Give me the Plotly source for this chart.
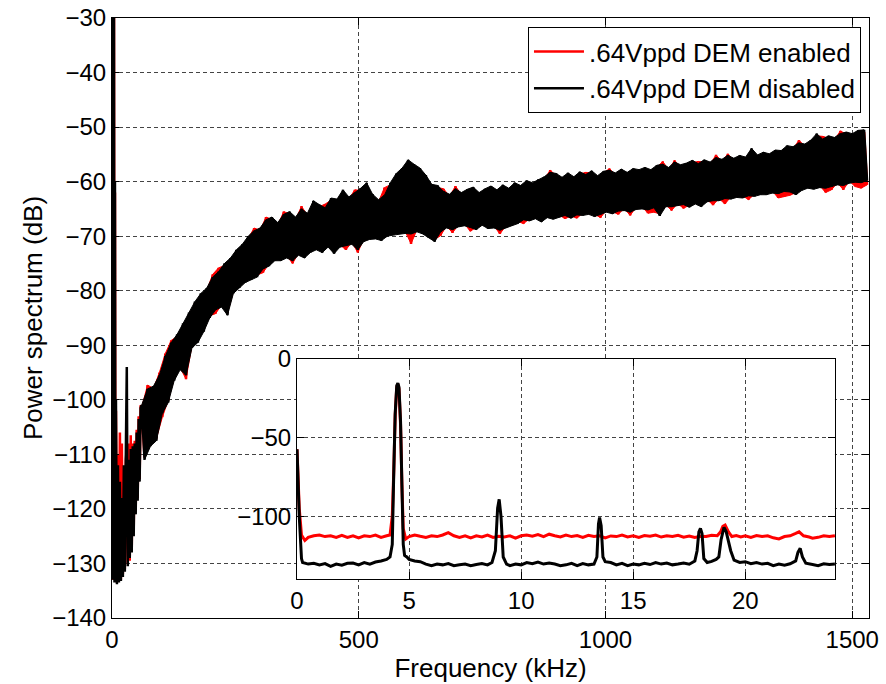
import plotly.graph_objects as go

# ---------------- main spectrum (kHz, dB) ----------------
LOW_F = [0, 1, 2, 3, 4, 5, 6, 7, 8, 10, 12, 14, 16, 18, 20, 22, 24, 26, 28, 30,
         32, 34, 36, 38, 40, 42, 44, 46, 48, 50, 52, 54, 56, 58]
BIN_F = list(range(60, 1536, 6))   # FFT bin grid above 60 kHz
main_f = LOW_F + BIN_F

black_low = [-20, -133, -22, -132, -25, -133.5, -60, -133, -100, -133.8,
             -112, -133.5, -115, -133.2, -118, -132.5, -112, -131.5, -110, -94,
             -130.5, -111, -129, -109, -128, -108.5, -125, -108, -121, -106,
             -118.5, -103.5, -115, -101.5]
red_low = [-20, -133, -22, -132, -25, -133, -62, -133, -102, -133.5,
           -110, -133, -106, -133, -108, -132, -113, -131, -111, -109,
           -130, -108, -129.5, -106.5, -127.5, -108, -124, -107.5, -120.5, -105.5,
           -118, -103, -114.5, -101]

# above 60 kHz the values alternate: local maximum, local minimum, ...
black_bins = [
    -101, -111, -98, -108.5, -97.5, -107.5, -95.5, -102.5, -92, -100.5,
    -89.5, -96.5, -88, -94.5, -86, -95.5, -84, -90.5, -82, -89.5,
    -80.5, -87.5, -79.5, -85, -77.5, -83.5, -76.5, -83, -75, -84.5,
    -74, -80.5, -72.5, -79.5, -71.5, -78.5, -70, -78, -69, -77.5,
    -68.5, -76, -67, -75.5, -66.5, -74.5, -67.5, -74.5, -66, -74,
    -65.5, -74.5, -66.5, -73.5, -65, -74, -65.8, -73, -63.5, -72.5,
    -64.2, -73, -64.8, -72, -63, -73.2, -63.2, -72, -61.5, -71.8,
    -62.8, -71.5, -62, -72.5, -61.2, -71, -60.2, -70.6, -62.3, -70.5,
    -63.3, -70.8, -62.5, -70, -60.2, -69.8, -58.5, -69.6, -57.5, -69.5,
    -56, -69.6, -56.8, -69.2, -57.5, -69.6, -58.8, -70.3, -60.5, -71,
    -60.7, -69.2, -61.8, -68.5, -62.3, -68.8, -61.3, -68.3, -62, -68.1,
    -61.4, -68.4, -61, -68.8, -62, -68, -61.3, -68.6, -60.8, -68.5,
    -61.5, -68.9, -60.6, -68.5, -61.2, -68.1, -60.2, -67.7, -60.7, -67,
    -59.8, -67.2, -60.2, -66.8, -59.6, -67.4, -59.1, -66.6, -58.3, -66.9,
    -58.5, -66.5, -59.2, -66.2, -58.4, -66.7, -59.1, -66.1, -58.2, -66.2,
    -58.7, -66, -58, -66.4, -58.9, -66, -58.1, -65.6, -57.9, -65.9,
    -58.4, -65.4, -57.7, -65.3, -58.3, -65.6, -57.6, -65.1, -57.8, -65,
    -57.4, -65.2, -57.8, -64.8, -57, -66.3, -56.8, -64.6, -57.4, -64.6,
    -56.4, -64.4, -56.9, -64.2, -56.6, -64.7, -56.1, -64.1, -56.7, -64.6,
    -56, -63.7, -56.4, -63.5, -55.6, -63.5, -55.9, -63.1, -55.2, -63.2,
    -55.7, -62.9, -55.2, -63, -55.5, -62.6, -53.9, -62.7, -55.1, -62.4,
    -54.6, -62.4, -54.9, -62.1, -54.2, -62.2, -54.3, -61.8, -53.4, -61.9,
    -53.6, -62.4, -52.9, -61.6, -53.1, -61.2, -52.4, -61.4, -51.2, -61.1,
    -52.2, -61.2, -51.6, -60.9, -51.9, -60.6, -51.2, -60.7, -50.9, -60.3,
    -51.2, -60.1, -50.6, -60.2, -50.5, -59.8,
]
red_bins = [
    -101.4, -110.6, -97.3, -108.1, -97.9, -107.1, -95, -103.2, -91.5, -100.1,
    -89.1, -96.1, -88.4, -94.1, -86.4, -96.2, -84.4, -90.1, -82.4, -89.1,
    -80.9, -87.1, -79.9, -84.6, -77, -84.2, -75.8, -82.6, -75.4, -84.1,
    -74.4, -80.1, -72.9, -79.1, -71.9, -78.1, -70.4, -77.6, -68.5, -77.1,
    -68.9, -76.7, -66.5, -75.1, -66.9, -74.1, -67.9, -74.1, -65.5, -73.6,
    -65.9, -75, -66.9, -73.1, -64.5, -73.6, -66.2, -72.6, -63.9, -72.1,
    -64.6, -72.6, -64.1, -71.6, -63.4, -72.8, -63.6, -71.6, -61.9, -72.5,
    -63.2, -71.1, -61.5, -73, -61.6, -70.6, -60.6, -70.2, -62.7, -70.1,
    -63.7, -70.4, -61.1, -69.6, -60.6, -69.4, -61, -69.2, -61.2, -69.1,
    -61, -71.4, -61.4, -68.8, -61.3, -69.2, -61.5, -69.9, -61.8, -70.6,
    -61.1, -69.9, -61.3, -68.1, -62.7, -69.4, -60.8, -67.9, -62.4, -67.7,
    -61.8, -69.1, -61.4, -68.4, -62.4, -67.6, -61.7, -68.2, -61.2, -68.1,
    -61.9, -69.6, -61, -68.1, -61.6, -67.7, -60.6, -67.3, -61.1, -67.7,
    -60.2, -66.8, -60.6, -66.4, -60, -67, -59.5, -66.2, -57.9, -66.5,
    -58.9, -66.1, -59.6, -66.8, -58.8, -66.3, -59.5, -66.7, -58.6, -65.8,
    -58.3, -65.6, -58.4, -66, -59.3, -66.6, -58.5, -65.2, -57.6, -65.5,
    -58.8, -66, -58.1, -64.9, -58.7, -66.2, -58, -64.7, -58.2, -64.6,
    -57.8, -65.8, -58.2, -65.6, -57.4, -65.9, -56.3, -64.2, -57.8, -65.3,
    -56.1, -64, -57.3, -64.9, -57, -64.3, -56.5, -63.7, -56.3, -64.2,
    -56.4, -63.3, -56.8, -64.3, -55.1, -63.1, -56.3, -64.1, -54.9, -62.8,
    -56.1, -62.5, -55.6, -62.6, -55.9, -63.3, -54.3, -62.3, -55.5, -62,
    -55, -62, -55.3, -61.7, -54.6, -63, -54.7, -62.8, -53.8, -62.5,
    -54, -62, -52.4, -61.2, -53.5, -60.8, -52.8, -61, -51.6, -60.7,
    -51.7, -62, -52, -61.5, -52.3, -60.2, -50.7, -61.5, -51.3, -59.9,
    -51.6, -60.9, -51, -61.2, -50.9, -60.6,
]
black_main = black_low + black_bins
red_main = red_low + red_bins
assert len(black_main) == len(main_f) == len(red_main)

# ---------------- inset (0-24 kHz) ----------------
inset_black_f = [
    0.0, 0.1, 0.2, 0.25, 0.5, 0.75, 1.0, 1.25, 1.5, 1.75,
    2.0, 2.25, 2.5, 2.75, 3.0, 3.25, 3.5, 3.75, 4.0, 4.15,
    4.25, 4.32, 4.38, 4.45, 4.5, 4.55, 4.62, 4.68, 4.74, 4.8,
    4.9, 5.0, 5.25, 5.5, 5.75, 6.0, 6.25, 6.5, 6.75, 7.0,
    7.25, 7.5, 7.75, 8.0, 8.25, 8.5, 8.7, 8.85, 8.95, 9.02,
    9.1, 9.2, 9.35, 9.5, 9.75, 10.0, 10.25, 10.5, 10.75, 11.0,
    11.25, 11.5, 11.75, 12.0, 12.25, 12.5, 12.75, 13.0, 13.25, 13.38,
    13.45, 13.5, 13.57, 13.65, 13.75, 14.0, 14.25, 14.5, 14.75, 15.0,
    15.25, 15.5, 15.75, 16.0, 16.25, 16.5, 16.75, 17.0, 17.25, 17.5,
    17.75, 17.85, 17.93, 18.0, 18.07, 18.15, 18.3, 18.5, 18.7, 18.82,
    18.92, 19.05, 19.15, 19.25, 19.35, 19.5, 19.75, 20.0, 20.25, 20.5,
    20.75, 21.0, 21.25, 21.5, 21.75, 22.0, 22.25, 22.35, 22.45, 22.55,
    22.7, 23.0, 23.25, 23.5, 23.75, 24.0,
]
inset_black_db = [
    -57.5, -100, -127, -129.5, -130.5, -130, -131, -130.2, -132, -130.5,
    -131.2, -130, -129.8, -131, -129.5, -130.5, -129.2, -128.5, -127.5, -126,
    -118, -70, -35, -17, -15.4, -18, -40, -80, -118, -125,
    -126, -127.5, -128.5, -129, -130.5, -131.5, -130.5, -131, -130.2, -131.5,
    -131, -130.5, -131.5, -130.8, -130.2, -131, -129.5, -122, -95, -89.3,
    -100, -126, -130.5, -131.5, -130.5, -131, -129.5, -130.3, -129.2, -130.5,
    -129.8, -130.5, -131.5, -131, -130, -131.5, -130.2, -131, -130.5, -126,
    -105, -100.9, -106, -126, -129, -129.5, -131, -130, -131.5, -130.5,
    -131, -130, -130.8, -129.5, -130.5, -129.8, -131, -130.5, -129.8, -130.6,
    -128.5, -122, -110, -107.8, -111, -127, -129.5, -128.8, -127.5, -126,
    -115, -107.2, -110, -116, -122, -128, -129.5, -129, -130.3, -129.5,
    -130.5, -130, -131.5, -130.5, -131.2, -130.3, -128.5, -123, -120.5, -126,
    -130, -130.8, -131.5, -130.3, -130.8, -130.5,
]
inset_red_f = [
    0.0, 0.1, 0.2, 0.35, 0.5, 0.75, 1.0, 1.25, 1.5, 1.75,
    2.0, 2.25, 2.5, 2.75, 3.0, 3.25, 3.5, 3.75, 4.0, 4.15,
    4.25, 4.32, 4.38, 4.45, 4.5, 4.55, 4.62, 4.68, 4.74, 4.85,
    5.0, 5.25, 5.5, 5.75, 6.0, 6.25, 6.5, 6.75, 7.0, 7.25,
    7.5, 7.75, 8.0, 8.25, 8.5, 8.75, 9.0, 9.25, 9.5, 9.75,
    10.0, 10.25, 10.5, 10.75, 11.0, 11.25, 11.5, 11.75, 12.0, 12.25,
    12.5, 12.75, 13.0, 13.25, 13.5, 13.75, 14.0, 14.25, 14.5, 14.75,
    15.0, 15.25, 15.5, 15.75, 16.0, 16.25, 16.5, 16.75, 17.0, 17.25,
    17.5, 17.75, 18.0, 18.25, 18.5, 18.75, 18.9, 19.0, 19.1, 19.25,
    19.4, 19.6, 19.8, 20.0, 20.25, 20.5, 20.75, 21.0, 21.25, 21.5,
    21.75, 22.0, 22.25, 22.4, 22.6, 22.85, 23.0, 23.25, 23.5, 23.75,
    24.0,
]
inset_red_db = [
    -57.5, -95, -112, -115.5, -113.5, -112.5, -112, -113, -112.5, -113.5,
    -112.2, -113.5, -112.5, -113.8, -112.5, -113, -112, -113.5, -112.5, -112,
    -100, -70, -36, -18, -16, -19, -42, -80, -108, -114.5,
    -113, -112, -112.8, -113.5, -112.5, -113, -112, -110.5, -112.5, -113.5,
    -112.5, -113.8, -112.5, -113.2, -112, -113.5, -112.8, -113.2, -112.5, -114,
    -112.5, -112, -112.8, -111.8, -113, -111.5, -112.5, -113.2, -112, -113,
    -112.4, -113.5, -112.2, -113, -112.5, -113.8, -112.6, -113, -112, -113.2,
    -112.5, -113.5, -112.3, -112.8, -112, -113.3, -112.5, -113, -112.2, -113.4,
    -112.6, -113.5, -112.8, -113, -112.2, -112.5, -110, -106.5, -105.7, -110,
    -113, -112.4, -113.2, -112.5, -113.5, -112.3, -113, -112.5, -113.8, -114.5,
    -113, -112.5, -111, -110, -112.5, -113.3, -114, -113.5, -112.5, -113,
    -112.5,
]
assert len(inset_black_f) == len(inset_black_db)
assert len(inset_red_f) == len(inset_red_db)

MAIN_X_TICKS = [0, 500, 1000, 1500]
MAIN_Y_TICKS = [-140, -130, -120, -110, -100, -90, -80, -70, -60, -50, -40, -30]
INSET_X_TICKS = [0, 5, 10, 15, 20]
INSET_Y_TICKS = [-100, -50, 0]

FONT = "Liberation Sans, Arial, Helvetica, sans-serif"
RED = "#ff0000"
BLACK = "#000000"


def band_outline(freqs, vals):
    """Polygon enclosing the dense spectrum: local maxima forward, local minima back."""
    hi_f, hi_v = freqs[0::2], vals[0::2]
    lo_f, lo_v = freqs[1::2], vals[1::2]
    return hi_f + lo_f[::-1], hi_v + lo_v[::-1]


fig = go.Figure()
for name, color, vals_bins, vals_all in [(".64Vppd DEM enabled", RED, red_bins, red_main),
                                         (".64Vppd DEM disabled", BLACK, black_bins, black_main)]:
    bx, by = band_outline(BIN_F, vals_bins)
    fig.add_trace(go.Scatter(x=bx, y=by, mode="lines", fill="toself", fillcolor=color,
                             line=dict(color=color, width=1), showlegend=False,
                             hoverinfo="skip"))
    fig.add_trace(go.Scatter(x=main_f, y=vals_all, mode="lines", name=name,
                             line=dict(color=color, width=2.5, simplify=False)))

fig.add_trace(go.Scatter(x=inset_red_f, y=inset_red_db, mode="lines", showlegend=False,
                         line=dict(color=RED, width=3, simplify=False), xaxis="x2", yaxis="y2"))
fig.add_trace(go.Scatter(x=inset_black_f, y=inset_black_db, mode="lines", showlegend=False,
                         line=dict(color=BLACK, width=3, simplify=False), xaxis="x2", yaxis="y2"))

axis_common = dict(showline=True, linecolor="black", linewidth=1, mirror="allticks",
                   ticks="inside", ticklen=7, tickcolor="black", tickwidth=1,
                   showgrid=True, gridcolor="#444444", gridwidth=1, griddash="4px,3px",
                   zeroline=False, tickfont=dict(family=FONT, size=24, color="black"))

fig.update_layout(
    width=886, height=684,
    margin=dict(l=112, r=17, t=18, b=66, autoexpand=False),
    paper_bgcolor="white", plot_bgcolor="white",
    font=dict(family=FONT, color="black"),
    xaxis=dict(range=[0, 1534], tickvals=MAIN_X_TICKS, domain=[0, 1],
               title=dict(text="Frequency (kHz)", font=dict(family=FONT, size=26), standoff=0),
               **axis_common),
    yaxis=dict(range=[-140, -30], tickvals=MAIN_Y_TICKS, domain=[0, 1],
               title=dict(text="Power spectrum (dB)", font=dict(family=FONT, size=26), standoff=2),
               **axis_common),
    xaxis2=dict(range=[0, 24], tickvals=INSET_X_TICKS, domain=[0.2444, 0.955], anchor="y2",
                **axis_common),
    yaxis2=dict(range=[-140, 0], tickvals=INSET_Y_TICKS, domain=[0.065, 0.4317], anchor="x2",
                **axis_common),
    legend=dict(x=0.9894, y=0.985, xanchor="right", yanchor="top",
                bgcolor="white", bordercolor="black", borderwidth=1,
                font=dict(family=FONT, size=26, color="black"),
                itemwidth=50, tracegroupgap=0),
    showlegend=True,
)

fig.write_html("out.html")
